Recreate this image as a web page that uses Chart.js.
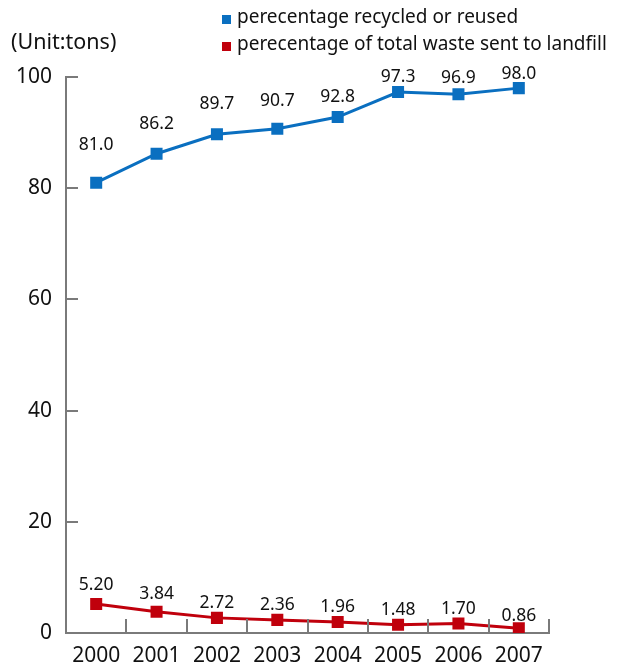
<!DOCTYPE html>
<html>
<head>
<meta charset="utf-8">
<script src="https://cdn.jsdelivr.net/npm/chart.js@4"></script>
<style>
  html, body { margin: 0; padding: 0; background: #fff; }
  #wrap { position: relative; width: 618px; height: 667px; font-family: "Noto Sans", sans-serif; color: #111; }
  #unit { position: absolute; left: 11px; top: 27px; font-size: 21.5px; line-height: 28px; }
  .leg { position: absolute; left: 222px; font-size: 19px; line-height: 24px; white-space: nowrap; }
  .leg i { display: inline-block; width: 9px; height: 9px; margin-right: 6px; vertical-align: -1px; }
</style>
</head>
<body>
<div id="wrap">
  <canvas id="chart_wasteRecycling" width="618" height="667"></canvas>
  <div id="unit">(Unit:tons)</div>
  <div class="leg" style="top:4px"><i style="background:#0a6fc0"></i>perecentage recycled or reused</div>
  <div class="leg" style="top:31px"><i style="background:#c0000c"></i>perecentage of total waste sent to landfill</div>
</div>
<script>
var years = ['2000', '2001', '2002', '2003', '2004', '2005', '2006', '2007'];
var recycled = [81.0, 86.2, 89.7, 90.7, 92.8, 97.3, 96.9, 98.0];
var landfill = [5.20, 3.84, 2.72, 2.36, 1.96, 1.48, 1.70, 0.86];
var recycledLabels = ['81.0', '86.2', '89.7', '90.7', '92.8', '97.3', '96.9', '98.0'];
var landfillLabels = ['5.20', '3.84', '2.72', '2.36', '1.96', '1.48', '1.70', '0.86'];
var yTicks = [0, 20, 40, 60, 80, 100];

// label lift above each point, px
var recycledLift = [38, 30, 30, 28, 20, 15, 16, 14];
var landfillLift = [19, 18, 15, 15, 15, 15, 15, 12];

var axisGray = '#7a7a7a';

var chart_wasteRecycling = new Chart(document.getElementById('chart_wasteRecycling'), {
    type: 'line',
    data: {
        labels: years,
        datasets: [
            {
                label: 'perecentage recycled or reused',
                data: recycled,
                borderColor: '#0a6fc0',
                backgroundColor: '#0a6fc0',
                borderWidth: 3,
                pointStyle: 'rect',
                pointRadius: 8.5,
                pointBorderWidth: 0,
                tension: 0
            },
            {
                label: 'perecentage of total waste sent to landfill',
                data: landfill,
                borderColor: '#c0000c',
                backgroundColor: '#c0000c',
                borderWidth: 3,
                pointStyle: 'rect',
                pointRadius: 8.5,
                pointBorderWidth: 0,
                tension: 0
            }
        ]
    },
    options: {
        animation: false,
        responsive: false,
        events: [],
        layout: { padding: { top: 77, right: 69, left: 0, bottom: 0 } },
        plugins: {
            legend: { display: false },
            tooltip: { enabled: false }
        },
        scales: {
            x: {
                offset: true,
                grid: { display: false },
                border: { display: true, color: axisGray, width: 2 },
                ticks: {
                    color: '#111',
                    padding: 2,
                    maxRotation: 0,
                    font: { family: 'Noto Sans', size: 21 }
                },
                afterFit: function(scale) { scale.height = 34; }
            },
            y: {
                min: 0,
                max: 100,
                afterBuildTicks: function(scale) {
                    scale.ticks = yTicks.map(function(v) { return { value: v }; });
                },
                grid: { display: false },
                border: { display: true, color: axisGray, width: 2 },
                ticks: {
                    color: '#111',
                    padding: 6,
                    font: { family: 'Noto Sans', size: 21 }
                },
                afterFit: function(scale) { scale.width = 66; }
            }
        }
    },
    plugins: [{
        id: 'insideTicksAndLabels',
        afterDraw: function(chart) {
            var ctx = chart.ctx;
            var xs = chart.scales.x, ys = chart.scales.y;
            var left = chart.chartArea.left, bottom = chart.chartArea.bottom;
            ctx.save();
            ctx.strokeStyle = axisGray;
            ctx.lineWidth = 2;
            // y ticks pointing into the plot
            yTicks.forEach(function(v) {
                var y = Math.round(ys.getPixelForValue(v));
                ctx.beginPath();
                ctx.moveTo(left, y);
                ctx.lineTo(left + 12, y);
                ctx.stroke();
            });
            // x ticks between categories
            for (var i = 1; i <= years.length; i++) {
                var x = Math.round((xs.getPixelForValue(i - 1) + xs.getPixelForValue(i)) / 2);
                if (i === years.length) x = chart.chartArea.right;
                ctx.beginPath();
                ctx.moveTo(x, bottom);
                ctx.lineTo(x, bottom - 14);
                ctx.stroke();
            }
            // value labels
            ctx.fillStyle = '#111';
            ctx.font = '17.5px "Noto Sans"';
            ctx.textAlign = 'center';
            ctx.textBaseline = 'middle';
            var m0 = chart.getDatasetMeta(0), m1 = chart.getDatasetMeta(1);
            m0.data.forEach(function(pt, i) {
                ctx.fillText(recycledLabels[i], pt.x, pt.y - recycledLift[i]);
            });
            m1.data.forEach(function(pt, i) {
                ctx.fillText(landfillLabels[i], pt.x, pt.y - landfillLift[i]);
            });
            ctx.restore();
        }
    }]
});
</script>
</body>
</html>
